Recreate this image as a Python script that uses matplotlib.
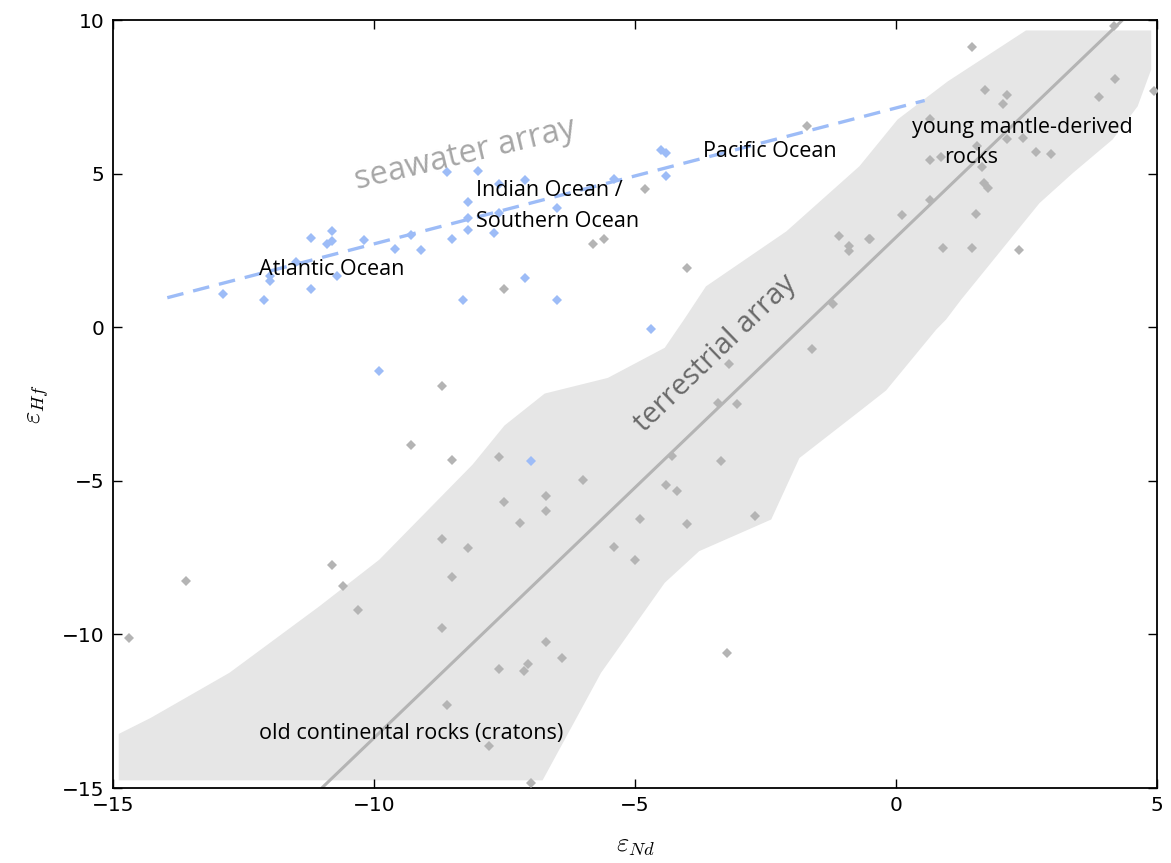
import matplotlib
matplotlib.use('Agg')
import matplotlib.pyplot as plt

plt.rcParams['mathtext.fontset'] = 'cm'

# seawater samples (blue)
sea_x = [-8.6, -8.0, -7.6, -8.2, -8.2, -7.6, -8.2, -7.7, -8.5, -9.1, -9.3, -9.6,
         -10.2, -10.8, -11.2, -10.9, -10.8, -11.5, -10.7, -12.0, -12.0, -11.2,
         -12.9, -12.1, -8.3, -4.5, -4.4, -4.4, -5.4, -6.5, -7.1, -7.1, -6.5,
         -4.7, -9.9, -7.0]
sea_y = [5.05, 5.1, 4.65, 4.07, 3.55, 3.72, 3.18, 3.07, 2.87, 2.5, 3.0, 2.55,
         2.85, 3.12, 2.91, 2.72, 2.82, 2.11, 1.68, 1.66, 1.52, 1.25,
         1.08, 0.87, 0.9, 5.78, 5.66, 4.91, 4.83, 3.88, 4.8, 1.6, 0.87,
         -0.05, -1.43, -4.37]

# terrestrial rocks (grey)
rock_x = [-4.8, -1.7, -5.8, -5.6, -4.0, -7.5, -1.1, -0.9, -0.9, -0.5, -1.2,
          1.45, 4.17, 1.71, 2.13, 2.05, 4.19, 3.89, 4.95, 0.66, 2.13, 2.43,
          1.55, 2.69, 2.97, 0.66, 0.87, 1.65, 1.69, 1.76, 0.66, 0.11, 1.54,
          -0.52, 0.9, 1.46, 2.35,
          -8.7, -9.3, -8.5, -7.6, -7.5, -13.6, -14.7, -10.8, -10.6, -10.3,
          -8.7, -8.2, -8.5, -8.7, -7.6, -8.6, -7.8,
          -1.6, -3.2, -3.4, -3.05, -4.3, -3.35, -6.0, -4.4, -4.2, -6.7, -6.7,
          -7.2, -4.9, -4.0, -2.7, -5.4, -5.0, -6.7, -6.4, -7.05, -7.13,
          -3.24, -7.0]
rock_y = [4.5, 6.56, 2.7, 2.88, 1.93, 1.25, 2.96, 2.63, 2.47, 2.87, 0.74,
          9.12, 9.8, 7.71, 7.57, 7.25, 8.09, 7.5, 7.68, 6.79, 6.13, 6.16,
          5.89, 5.71, 5.64, 5.43, 5.53, 5.21, 4.7, 4.53, 4.13, 3.64, 3.67,
          2.87, 2.58, 2.58, 2.5,
          -1.9, -3.85, -4.33, -4.24, -5.7, -8.27, -10.11, -7.73, -8.41, -9.22,
          -6.88, -7.18, -8.13, -9.79, -11.12, -12.31, -13.64,
          -0.71, -1.2, -2.47, -2.5, -4.18, -4.37, -4.96, -5.15, -5.34, -5.5, -5.99,
          -6.37, -6.24, -6.39, -6.13, -7.15, -7.59, -10.26, -10.76, -10.95, -11.18,
          -10.6, -14.83]

# terrestrial envelope outline
env_x = [-14.89, -14.89, -14.28, -12.77, -11.05, -9.9, -8.11, -7.5, -6.73,
         -5.52, -4.43, -4.06, -3.64, -2.1, -0.7, 0.03, 0.99, 2.49, 4.89, 4.89,
         4.63, 4.15, 3.39, 2.75, 1.25, 0.96, 0.77, -0.19, -0.7, -1.85, -2.39,
         -3.77, -4.43, -5.65, -6.77]
env_y = [-14.75, -13.24, -12.72, -11.25, -9.09, -7.57, -4.47, -3.2, -2.16,
         -1.65, -0.67, 0.25, 1.33, 3.12, 5.24, 6.76, 8.0, 9.66, 9.66, 8.39,
         7.19, 6.11, 5.02, 4.04, 0.9, 0.25, -0.08, -2.06, -2.74, -4.26, -6.26,
         -7.29, -8.32, -11.25, -14.75]

# array lines
terr_x = [-11.0, 4.34]
terr_y = [-15.0, 10.0]
sw_x = [-13.96, 0.55]
sw_y = [0.96, 7.38]

grey = '#b4b4b4'
blue = '#9dbcf7'

fig = plt.figure(figsize=(11.71, 8.63), dpi=100)
ax = fig.add_axes([0.0965, 0.0869, 0.8915, 0.8899])

ax.fill(env_x, env_y, color='#e6e6e6', lw=0, zorder=1)
ax.plot(terr_x, terr_y, color='#b4b4b4', lw=2.2, zorder=2, solid_capstyle='butt')
ax.plot(sw_x, sw_y, color=blue, lw=2.4, ls=(0, (5, 3)), zorder=2)

ax.plot(rock_x, rock_y, 'D', color=grey, ms=4.8, mew=0, zorder=3)
ax.plot(sea_x, sea_y, 'D', color=blue, ms=4.8, mew=0, zorder=3)

tfont = 'Open Sans'
fs = 15.5
ax.text(-8.25, 5.62, 'seawater array', color='#a6a6a6', fontsize=23.5,
        rotation=13.5, ha='center', va='center', family=tfont, zorder=4)
ax.text(-3.45, -0.85, 'terrestrial array', color='#6a6a6a', fontsize=21,
        rotation=44, ha='center', va='center', family=tfont, zorder=4)
ax.text(-12.2, 1.88, 'Atlantic Ocean', fontsize=fs, ha='left', va='center',
        family=tfont, zorder=4)
ax.text(-8.05, 4.45, 'Indian Ocean /', fontsize=fs, ha='left',
        va='center', family=tfont, zorder=4)
ax.text(-8.05, 3.44, 'Southern Ocean', fontsize=fs, ha='left',
        va='center', family=tfont, zorder=4)
ax.text(-3.69, 5.72, 'Pacific Ocean', fontsize=fs, ha='left', va='center',
        family=tfont, zorder=4)
ax.text(0.31, 6.5, 'young mantle-derived', fontsize=fs, ha='left', va='center',
        family=tfont, zorder=4)
ax.text(0.93, 5.52, 'rocks', fontsize=fs, ha='left', va='center',
        family=tfont, zorder=4)
ax.text(-12.2, -13.23, 'old continental rocks (cratons)', fontsize=fs,
        ha='left', va='center', family=tfont, zorder=4)

ax.set_xlim(-15, 5)
ax.set_ylim(-15, 10)
ax.set_xticks([-15, -10, -5, 0, 5])
ax.set_yticks([-15, -10, -5, 0, 5, 10])
ax.tick_params(direction='in', top=True, right=True, length=6.5, width=1,
               labelsize=14.5, pad=6)
for s in ax.spines.values():
    s.set_linewidth(1.3)
ax.set_xlabel(r'$\varepsilon_{Nd}$', fontsize=19, labelpad=12)
ax.set_ylabel(r'$\varepsilon_{Hf}$', fontsize=19, labelpad=8)

fig.savefig('out.png', dpi=100)
